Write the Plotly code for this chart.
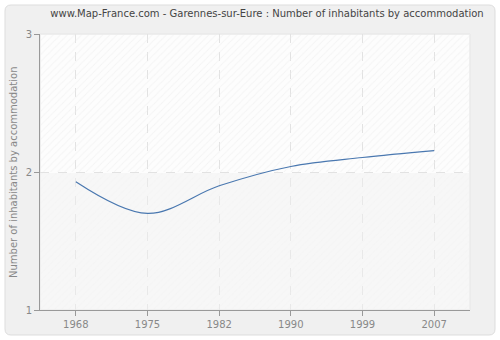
import plotly.graph_objects as go

years = ["1968", "1975", "1982", "1990", "1999", "2007"]
values = [1.93, 1.70, 1.90, 2.04, 2.105, 2.155]
y_ticks = [1, 2, 3]

W, H = 500, 340
L, R, T, B = 40, 30, 34, 30

fig = go.Figure()

# hatched plot background (upper half white with hatch, lower half light grey)
fig.add_trace(go.Bar(x=[0.5], y=[1], base=[2], width=[1], xaxis="x", yaxis="y",
                     marker=dict(color="rgba(0,0,0,0)", line=dict(width=0),
                                 pattern=dict(shape="/", fgcolor="#ececec", bgcolor="rgba(0,0,0,0)",
                                              size=5, solidity=0.2)),
                     hoverinfo="skip", showlegend=False))
fig.add_trace(go.Bar(x=[0.5], y=[0.994], base=[1], width=[1], xaxis="x", yaxis="y",
                     marker=dict(color="rgba(0,0,0,0)", line=dict(width=0),
                                 pattern=dict(shape="/", fgcolor="rgba(236,236,236,0.5)",
                                              bgcolor="rgba(240,240,240,0.45)",
                                              size=5, solidity=0.2)),
                     hoverinfo="skip", showlegend=False))

fig.add_trace(go.Scatter(x=years, y=values, mode="lines", xaxis="x2", yaxis="y",
                         line=dict(color="#4a78b0", width=1.2, shape="spline", smoothing=1.0),
                         showlegend=False))

# outer rounded panel with a hole for the plot area
pw = W - L - R
ph = H - T - B
x0 = -(L - 5) / pw
x1 = 1 + (R - 5) / pw
y0 = -(B - 5) / ph
y1 = 1 + (T - 5) / ph
rx = 6 / pw
ry = 6 / ph
path = (f"M {x0+rx},{y0} L {x1-rx},{y0} Q {x1},{y0} {x1},{y0+ry} "
        f"L {x1},{y1-ry} Q {x1},{y1} {x1-rx},{y1} L {x0+rx},{y1} Q {x0},{y1} {x0},{y1-ry} "
        f"L {x0},{y0+ry} Q {x0},{y0} {x0+rx},{y0} Z "
        f"M 0,0 L 0,1 L 1,1 L 1,0 Z")
fig.add_shape(type="path", path=path, xref="paper", yref="paper",
              fillcolor="#f0f0f0", line=dict(color="#dddddd", width=1), layer="below")
fig.add_shape(type="rect", x0=0, x1=1, y0=0, y1=1, xref="paper", yref="paper",
              line=dict(color="#f0f0f0", width=1), fillcolor="rgba(0,0,0,0)", layer="below")

fig.add_annotation(text="Number of inhabitants by accommodation", textangle=-90,
                   xref="paper", yref="paper", x=(13 - L) / pw, y=0.5,
                   xanchor="center", yanchor="middle", showarrow=False,
                   font=dict(size=10, color="#888888"))

fig.update_layout(
    width=W, height=H,
    margin=dict(l=L, r=R, t=T, b=B, autoexpand=False),
    paper_bgcolor="white",
    plot_bgcolor="#fdfdfd",
    barmode="overlay",
    bargap=0,
    font=dict(family="DejaVu Sans", size=10, color="#888888"),
    title=dict(text="www.Map-France.com - Garennes-sur-Eure : Number of inhabitants by accommodation",
               x=267 / W, xanchor="center", xref="container", y=1 - 13 / H, yanchor="middle",
               yref="container", font=dict(size=10, color="#444444")),
    xaxis=dict(range=[0, 1], visible=False, showgrid=False, zeroline=False, fixedrange=True),
    xaxis2=dict(type="category", overlaying="x", side="bottom", range=[-0.5, 5.5],
                showgrid=True, gridcolor="#e2e2e2",
                griddash="dash", gridwidth=1, showline=True, linecolor="#999999", linewidth=1,
                ticks="outside", ticklen=5, tickcolor="#999999", zeroline=False,
                tickfont=dict(size=10, color="#888888"), automargin=False),
    yaxis=dict(range=[1, 3], tickvals=y_ticks, showgrid=True, gridcolor="#e2e2e2",
               griddash="dash", gridwidth=1, showline=True, linecolor="#999999", linewidth=1,
               ticks="outside", ticklen=5, tickcolor="#999999", zeroline=False,
               tickfont=dict(size=10, color="#888888"), automargin=False),
)

fig.write_html("out.html")
